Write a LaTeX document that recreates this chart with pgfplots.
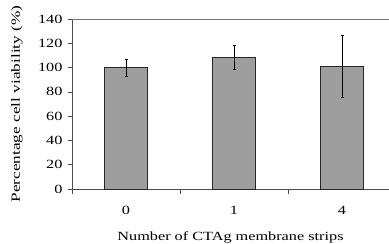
\documentclass[border=0pt]{standalone}
\usepackage{pgfplots}
\pgfplotsset{compat=1.18}
\usepackage{fontspec}
\setmainfont{Liberation Serif}[FakeStretch=1.3]
\newfontfamily\ylabfont{Liberation Serif}[FakeStretch=1.38]
\begin{document}
\begin{tikzpicture}[x=1pt,y=1pt]
\begin{axis}[
  at={(0,0)}, anchor=south west,
  scale only axis, width=317pt, height=170pt,
  xmin=-0.5, xmax=2.435, ymin=0, ymax=140,
  axis lines*=left,
  axis line style={black!70, line width=0.6pt},
  ytick={0,20,...,140},
  xtick={0,1,2}, xticklabels={0,1,4},
  major tick length=0pt,
  y tick label style={/pgf/number format/assume math mode=true, font=\fontsize{12.5}{15}\selectfont, xshift=-6pt},
  x tick label style={font=\fontsize{12.5}{15}\selectfont, yshift=-14pt},
  extra x ticks={-0.5,0.5,1.5}, extra x tick labels={},
  extra x tick style={major tick length=5pt, tick align=outside, tick style={black!70,line width=0.6pt}},
  extra y ticks={0,20,...,140}, extra y tick labels={},
  extra y tick style={major tick length=4pt, tick align=outside, tick style={black!70,line width=0.6pt}},
  xlabel={Number of CTAg membrane strips},
  xlabel style={font=\fontsize{12.5}{15}\selectfont, at={(axis description cs:0.5,0)}, anchor=center, yshift=-48pt},
  ylabel={Percentage cell viability (\%)},
  ylabel style={font=\ylabfont\fontsize{12.5}{15}\selectfont, at={(axis description cs:0,0.5)}, anchor=center, yshift=55pt},
  clip=false,
]
\addplot[ybar, bar width=0.4, fill=black!38, draw=black!85, line width=0.6pt,
  error bars/.cd, y dir=both, y explicit,
  error bar style={black, line width=0.5pt},
  error mark options={rotate=90, mark size=1.5pt, black}]
  coordinates {(0,100) +- (0,7) (1,108.5) +- (0,10.2) (2,101.2) +- (0,25.4)};
\draw[black!55, line width=0.8pt] (rel axis cs:0,1) -- (rel axis cs:1,1);
\end{axis}
\pgfresetboundingbox
\path[use as bounding box] (-72,-55) rectangle (317,189);
\end{tikzpicture}
\end{document}
